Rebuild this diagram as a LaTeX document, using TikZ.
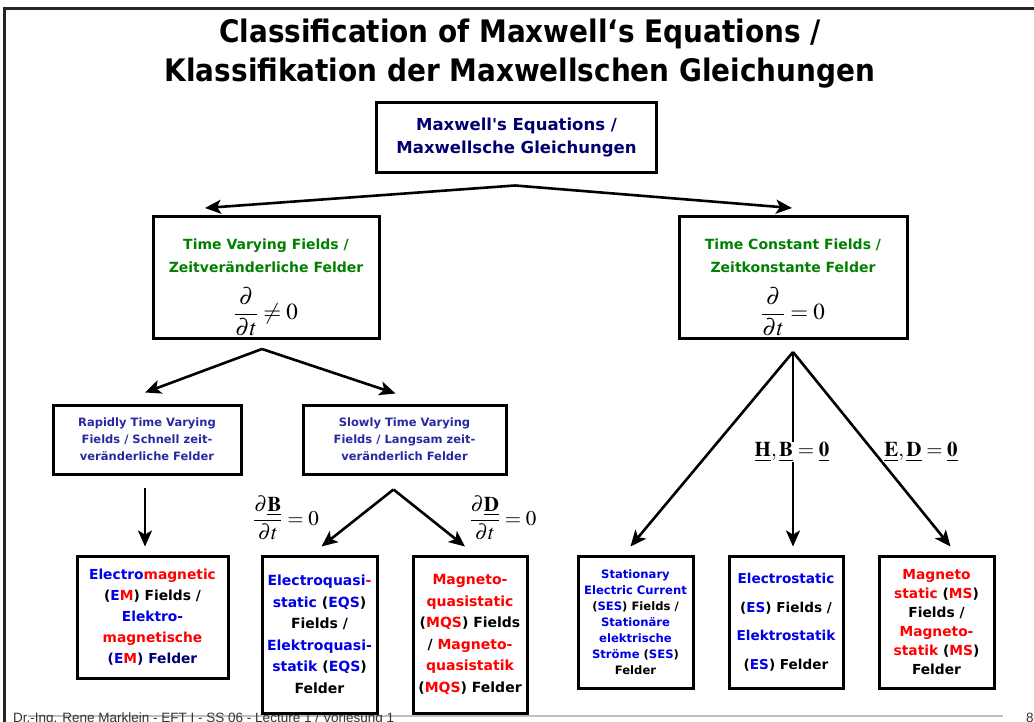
\documentclass[tikz,border=0pt]{standalone}
\usepackage{amsmath}
\usepackage{mathptmx}
\usepackage{fontspec}
\setmainfont{DejaVu Sans}[Ligatures=TeXOff]
\newfontfamily\titlefont{DejaVu Sans Condensed}
\newfontfamily\footfont{Liberation Sans}
\usetikzlibrary{arrows.meta,calc}
\definecolor{navytxt}{RGB}{0,0,110}
\definecolor{greentxt}{RGB}{0,128,0}
\definecolor{purptxt}{RGB}{40,40,160}
\definecolor{bluetxt}{RGB}{0,0,230}
\definecolor{redtxt}{RGB}{255,0,0}
\newcommand{\bl}[1]{\textcolor{bluetxt}{#1}}
\newcommand{\rd}[1]{\textcolor{redtxt}{#1}}
\begin{document}
\begin{tikzpicture}[x=1pt,y=-1pt,
  box/.style={draw,line width=3pt,align=center,font=\bfseries,inner sep=0pt},
  bigarrow/.style={line width=2.6pt,-{Stealth[length=16pt,width=14pt,inset=4pt]}},
  lab/.style={fill=white,inner sep=1pt,font=\fontsize{21}{23}\selectfont}]
\useasboundingbox (0,0) rectangle (1034,722);
% frame and title
\draw[line width=3pt,black!85] (4,722) -- (4,9) -- (1034,9);
\node[font=\titlefont\bfseries\fontsize{31}{39}\selectfont,align=center] (title) at (520,54)
  {Classification of Maxwell‘s Equations /\\Klassifikation der Maxwellschen Gleichungen};
% footer
\draw[line width=1.5pt,black!25] (28,716) -- (1003,716);
\node[font=\footfont\fontsize{13.5}{14}\selectfont,anchor=north west,inner sep=0pt,black!80] (foot) at (13,712.5)
  {Dr.-Ing. Rene Marklein - EFT I - SS 06 - Lecture 1 / Vorlesung 1};
\node[font=\footfont\fontsize{13.5}{14}\selectfont,anchor=north west,inner sep=0pt,black!80] (page) at (1026,712.5) {8};
% boxes
\node[box,minimum width=280,minimum height=70,font=\bfseries\fontsize{16.5}{23}\selectfont,text=navytxt] (maxw) at (516.5,138)
  {Maxwell's Equations /\\Maxwellsche Gleichungen};
\node[box,minimum width=226,minimum height=122,font=\bfseries\fontsize{14}{23}\selectfont] (tvar) at (266,277.5)
  {\rule{0pt}{31pt}\textcolor{greentxt}{Time Varying Fields /}\\
   \textcolor{greentxt}{Zeitveränderliche Felder}\\[13pt]
   {\fontsize{23}{25}\selectfont$\dfrac{\partial}{\partial t}\neq 0$}};
\node[box,minimum width=228,minimum height=122,font=\bfseries\fontsize{14}{23}\selectfont] (tcon) at (793,277.5)
  {\rule{0pt}{31pt}\textcolor{greentxt}{Time Constant Fields /}\\
   \textcolor{greentxt}{Zeitkonstante Felder}\\[13pt]
   {\fontsize{23}{25}\selectfont$\dfrac{\partial}{\partial t}= 0$}};
\node[box,minimum width=188,minimum height=69,text=purptxt,font=\bfseries\fontsize{11.5}{17}\selectfont] (rapid) at (147,439.5)
  {Rapidly Time Varying\\Fields / Schnell zeit-\\veränderliche Felder};
\node[box,minimum width=203,minimum height=69,text=purptxt,font=\bfseries\fontsize{11.5}{17}\selectfont] (slow) at (404.5,439.5)
  {Slowly Time Varying\\Fields / Langsam zeit-\\veränderlich Felder};
\node[box,minimum width=151,minimum height=122,font=\bfseries\fontsize{13.8}{21}\selectfont] (em) at (152.5,617)
  {\bl{Electro}\rd{magnetic}\\(\bl{E}\rd{M}) Fields /\\\bl{Elektro-}\\\rd{magnetische}\\\textcolor{navytxt}{(}\bl{E}\rd{M}\textcolor{navytxt}{) Felder}};
\node[box,minimum width=115,minimum height=157,font=\bfseries\fontsize{14}{21.5}\selectfont] (eqs) at (319.5,634.5)
  {\bl{Electroquasi}\rd{-}\\\bl{static} (\bl{EQS})\\Fields /\\\bl{Elektroquasi-}\\\bl{statik} (\bl{EQS})\\Felder};
\node[box,minimum width=114,minimum height=157,font=\bfseries\fontsize{14}{21.5}\selectfont] (mqs) at (470,634.5)
  {\rd{Magneto-}\\\rd{quasistatic}\\(\rd{MQS}) Fields\\/ \rd{Magneto-}\\\rd{quasistatik}\\(\rd{MQS}) Felder};
\node[box,minimum width=115,minimum height=132,font=\bfseries\fontsize{11.6}{16}\selectfont] (ses) at (635.5,622)
  {\bl{Stationary}\\\bl{Electric Current}\\(\bl{SES}) Fields /\\\bl{Stationäre}\\\bl{elektrische}\\\bl{Ströme} (\bl{SES})\\Felder};
\node[box,minimum width=114,minimum height=132,font=\bfseries\fontsize{13.6}{28.5}\selectfont] (es) at (786,622)
  {\bl{Electrostatic}\\(\bl{ES}) Fields /\\\bl{Elektrostatik}\\(\bl{ES}) Felder};
\node[box,minimum width=115,minimum height=132,font=\bfseries\fontsize{13.8}{19}\selectfont] (ms) at (936.5,622)
  {\rd{Magneto}\\\rd{static} (\rd{MS})\\Fields /\\\rd{Magneto-}\\\rd{statik} (\rd{MS})\\Felder};
% split points
\coordinate (topsplit) at ($(maxw.south)+(-1.5,11)$);
\coordinate (tvsplit) at ($(tvar.south)+(-4,9)$);
\coordinate (slsplit) at ($(slow.south)+(-11,14)$);
\coordinate (tcsplit) at ($(tcon.south)+(0,12)$);
% arrows
\draw[bigarrow] (topsplit) -- ($(tvar.north)+(-61,-7)$);
\draw[bigarrow] (topsplit) -- ($(tcon.north)+(-1,-7)$);
\draw[bigarrow] (tvsplit) -- ($(rapid.north)+(-2,-11)$);
\draw[bigarrow] (tvsplit) -- ($(slow.north)+(-9,-10)$);
\draw[bigarrow] ($(rapid.south)+(-2,12)$) -- ($(em.north)+(-7.5,-8)$);
\draw[bigarrow] (slsplit) -- ($(eqs.north)+(2,-8)$);
\draw[bigarrow] (slsplit) -- ($(mqs.north)+(-5,-8)$);
\draw[bigarrow] (tcsplit) -- ($(ses.north)+(-5,-8)$);
\draw[bigarrow] (tcsplit) -- ($(es.north)+(7,-8)$);
\draw[bigarrow] (tcsplit) -- ($(ms.north)+(14,-8)$);
% labels
\node[lab] (dblab) at (286,518) {$\dfrac{\partial\underline{\mathbf{B}}}{\partial t}=0$};
\node[lab,fill=none] (ddlab) at (503,518) {$\dfrac{\partial\underline{\mathbf{D}}}{\partial t}=0$};
\node[lab] (hblab) at (792,452) {$\underline{\mathbf{H}},\underline{\mathbf{B}}=\underline{\mathbf{0}}$};
\node[lab] (edlab) at (921,452) {$\underline{\mathbf{E}},\underline{\mathbf{D}}=\underline{\mathbf{0}}$};
\end{tikzpicture}
\end{document}
